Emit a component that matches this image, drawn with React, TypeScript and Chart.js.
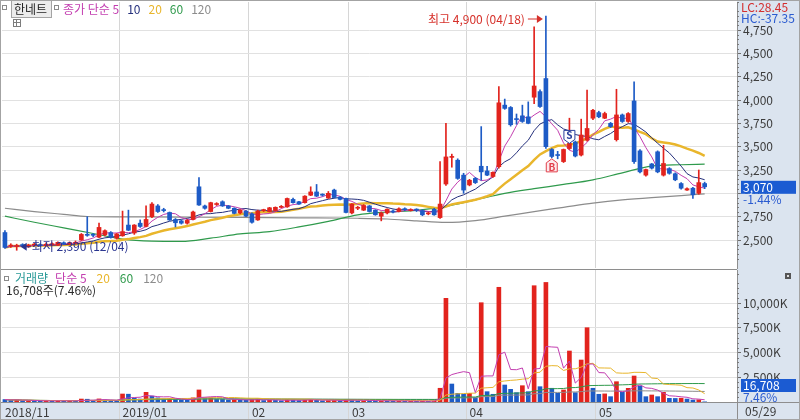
import React, { useEffect, useRef } from 'react';
import { Chart, registerables } from 'chart.js';

Chart.register(...registerables);

const FONT = '"Noto Sans CJK KR", "Noto Sans", sans-serif';

// ---------------- data ----------------
const STOCK_NAME = '한네트';

const DATES = [
  '2018/11/30',
  '2018/12/03', '2018/12/04', '2018/12/05', '2018/12/06', '2018/12/07', '2018/12/10', '2018/12/11', '2018/12/12', '2018/12/13', '2018/12/14',
  '2018/12/17', '2018/12/18', '2018/12/19', '2018/12/20', '2018/12/21', '2018/12/24', '2018/12/26', '2018/12/27', '2018/12/28',
  '2019/01/02', '2019/01/03', '2019/01/04', '2019/01/07', '2019/01/08', '2019/01/09', '2019/01/10', '2019/01/11', '2019/01/14', '2019/01/15',
  '2019/01/16', '2019/01/17', '2019/01/18', '2019/01/21', '2019/01/22', '2019/01/23', '2019/01/24', '2019/01/25', '2019/01/28', '2019/01/29',
  '2019/01/30', '2019/01/31',
  '2019/02/01', '2019/02/07', '2019/02/08', '2019/02/11', '2019/02/12', '2019/02/13', '2019/02/14', '2019/02/15', '2019/02/18', '2019/02/19',
  '2019/02/20', '2019/02/21', '2019/02/22', '2019/02/25', '2019/02/26', '2019/02/27', '2019/02/28',
  '2019/03/04', '2019/03/05', '2019/03/06', '2019/03/07', '2019/03/08', '2019/03/11', '2019/03/12', '2019/03/13', '2019/03/14', '2019/03/15',
  '2019/03/18', '2019/03/19', '2019/03/20', '2019/03/21', '2019/03/22', '2019/03/25', '2019/03/26', '2019/03/27', '2019/03/28', '2019/03/29',
  '2019/04/01', '2019/04/02', '2019/04/03', '2019/04/04', '2019/04/05', '2019/04/08', '2019/04/09', '2019/04/10', '2019/04/11', '2019/04/12',
  '2019/04/15', '2019/04/16', '2019/04/17', '2019/04/18', '2019/04/19', '2019/04/22', '2019/04/23', '2019/04/24', '2019/04/25', '2019/04/26',
  '2019/04/29', '2019/04/30',
  '2019/05/02', '2019/05/03', '2019/05/07', '2019/05/08', '2019/05/09', '2019/05/10', '2019/05/13', '2019/05/14', '2019/05/15', '2019/05/16',
  '2019/05/17', '2019/05/20', '2019/05/21', '2019/05/22', '2019/05/23', '2019/05/24', '2019/05/27', '2019/05/28', '2019/05/29',
];

const OPEN = [
  2580, 2435, 2430, 2445, 2430, 2445, 2450, 2440, 2450, 2445, 2470, 2455, 2465, 2500, 2560, 2555, 2530, 2555, 2580, 2520,
  2545, 2660, 2575, 2680, 2645, 2750, 2865, 2825, 2795, 2720, 2705, 2680, 2720, 3070, 2865, 2805, 2880, 2910, 2865, 2840,
  2790, 2810, 2780, 2715, 2815, 2805, 2815, 2850, 2855, 2935, 2910, 2900, 2980, 3015, 2985, 2950, 3035, 2960, 2945, 2790,
  2840, 2820, 2865, 2820, 2755, 2790, 2805, 2805, 2830, 2815, 2825, 2815, 2780, 2830, 2740, 3100, 3385, 3355, 3195, 3090,
  3160, 3290, 3240, 3180, 3285, 3945, 3920, 3800, 3830, 3820, 4030, 4090, 4230, 3470, 3415, 3340, 3480, 3550, 3410, 3570,
  3805, 3865, 3805, 3750, 3575, 3840, 3770, 3990, 3455, 3195, 3315, 3445, 3195, 3265, 3210, 3105, 3035, 3055, 3000, 3105,
];
const HIGH = [
  2600, 2460, 2455, 2460, 2455, 2465, 2460, 2470, 2470, 2480, 2480, 2480, 2490, 2570, 2750, 2570, 2680, 2610, 2590, 2570,
  2810, 2820, 2665, 2715, 2865, 2900, 2880, 2840, 2800, 2730, 2715, 2720, 2810, 3170, 2875, 2905, 2900, 2920, 2870, 2845,
  2825, 2815, 2790, 2820, 2830, 2850, 2855, 2870, 2950, 2950, 2915, 2975, 3070, 3095, 2995, 3020, 3045, 2965, 2950, 2890,
  2860, 2880, 2870, 2825, 2800, 2835, 2820, 2845, 2845, 2835, 2835, 2825, 2800, 2840, 3340, 3750, 3420, 3370, 3215, 3150,
  3170, 3715, 3290, 3230, 4145, 4010, 3930, 3850, 3945, 3980, 4785, 4110, 4900, 3480, 3450, 3475, 3805, 3560, 3795, 4105,
  3900, 3880, 3870, 3760, 4115, 3850, 3865, 4195, 3470, 3260, 3320, 3455, 3515, 3275, 3220, 3115, 3060, 3065, 3250, 3120,
];
const LOW = [
  2410, 2420, 2390, 2430, 2420, 2435, 2430, 2435, 2440, 2440, 2450, 2450, 2460, 2495, 2540, 2535, 2525, 2545, 2520, 2510,
  2540, 2600, 2560, 2635, 2640, 2740, 2795, 2800, 2710, 2640, 2670, 2670, 2715, 2870, 2830, 2800, 2870, 2860, 2835, 2780,
  2780, 2750, 2680, 2710, 2805, 2800, 2810, 2845, 2850, 2895, 2880, 2895, 2975, 2965, 2970, 2945, 2950, 2930, 2790, 2780,
  2825, 2815, 2800, 2765, 2705, 2780, 2790, 2800, 2815, 2810, 2805, 2760, 2770, 2765, 2730, 3085, 3280, 3150, 3000, 3080,
  3105, 3140, 3190, 3170, 3270, 3900, 3720, 3740, 3760, 3745, 3960, 3920, 3480, 3380, 3370, 3330, 3470, 3390, 3400, 3560,
  3790, 3810, 3800, 3705, 3560, 3760, 3760, 3320, 3220, 3185, 3260, 3220, 3185, 3205, 3135, 3045, 3030, 2945, 2990, 3050,
];
const CLOSE = [
  2420, 2445, 2440, 2440, 2445, 2450, 2440, 2455, 2455, 2475, 2460, 2470, 2475, 2560, 2550, 2550, 2635, 2600, 2530, 2565,
  2590, 2605, 2660, 2645, 2720, 2885, 2805, 2815, 2715, 2685, 2680, 2710, 2800, 2875, 2840, 2900, 2890, 2865, 2840, 2785,
  2820, 2755, 2690, 2810, 2820, 2845, 2850, 2855, 2945, 2900, 2885, 2970, 3015, 2970, 2980, 3000, 2955, 2935, 2795, 2885,
  2845, 2870, 2805, 2770, 2790, 2830, 2800, 2835, 2825, 2825, 2820, 2770, 2790, 2770, 2885, 3390, 3395, 3160, 3035, 3140,
  3115, 3230, 3195, 3225, 3970, 3910, 3735, 3790, 3770, 3750, 4150, 3930, 3500, 3395, 3405, 3470, 3535, 3400, 3625, 3695,
  3890, 3820, 3855, 3715, 3840, 3770, 3855, 3340, 3230, 3255, 3270, 3230, 3320, 3215, 3145, 3055, 3050, 2985, 3115, 3070,
];
const VOLUME = [
  250000, 180000, 220000, 120000, 150000, 110000, 90000, 130000, 100000, 160000, 90000, 110000, 100000, 300000, 280000, 120000, 310000, 200000, 150000, 120000,
  810000, 790000, 400000, 300000, 980000, 600000, 420000, 300000, 350000, 250000, 200000, 180000, 420000, 1220000, 400000, 420000, 300000, 280000, 200000, 230000,
  200000, 180000, 250000, 300000, 150000, 180000, 160000, 120000, 260000, 200000, 150000, 200000, 250000, 230000, 120000, 150000, 180000, 120000, 250000, 230000,
  120000, 130000, 120000, 110000, 140000, 120000, 90000, 100000, 80000, 90000, 80000, 100000, 70000, 110000, 1390000, 10490000, 1820000, 880000, 780000, 880000,
  435000, 10050000, 1045000, 780000, 11610000, 1720000, 1285000, 945000, 1650000, 1045000, 11770000, 1550000, 12100000, 1390000, 880000, 1215000, 5160000, 945000, 4250000, 7520000,
  1390000, 780000, 820000, 540000, 2055000, 980000, 1385000, 2630000, 1620000, 540000, 710000, 540000, 980000, 370000, 360000, 380000, 300000, 200000, 224000, 16708,
];

// long moving averages (index, value)
const MA60_IDX = [0, 5, 10, 15, 20, 25, 30, 35, 40, 45, 50, 55, 60, 65, 70, 75, 80, 85, 90, 95, 100, 105, 110, 115, 119];
const MA60_VAL = [2755, 2690, 2630, 2570, 2510, 2488, 2485, 2520, 2565, 2590, 2640, 2700, 2770, 2800, 2818, 2860, 2930, 3000, 3050, 3095, 3145, 3220, 3292, 3306, 3312];
const MA120_IDX = [0, 5, 10, 14, 20, 30, 40, 50, 60, 65, 70, 75, 80, 85, 90, 95, 100, 105, 110, 115, 119];
const MA120_VAL = [2840, 2805, 2775, 2752, 2748, 2745, 2742, 2738, 2733, 2725, 2705, 2688, 2708, 2755, 2805, 2850, 2895, 2930, 2955, 2975, 2995];

const SIGNALS = [
  { idx: 93, type: 'B' },
  { idx: 96, type: 'S' },
];

const PRICE_TICKS = [2500, 2750, 3000, 3250, 3500, 3750, 4000, 4250, 4500, 4750];
const VOLUME_TICKS = [2500000, 5000000, 7500000, 10000000];
const PRICE_LEGEND = ['종가 단순 5', '10', '20', '60', '120'];
const VOLUME_LEGEND = ['거래량', '단순 5', '20', '60', '120'];
const EMPTY_SLOTS = 5;

// ---------------- styles ----------------
const RED = '#e2231d';
const BLUE = '#1d5bc6';
const PANEL_BG = '#dbe4ef';
const GRID = '#e1e1e1';
const GRID_V = '#d6d6d6';
const AXIS = '#8e8e8e';
const TEXT = '#3c3c3c';
const C_MA5 = '#c33eb0';
const C_MA10 = '#25307c';
const C_MA20 = '#e9b62c';
const C_MA60 = '#2f9a4c';
const C_MA120 = '#8c8c8c';
const C_VOL = '#2a9a98';

const fmt = (n: number) => Math.round(n).toLocaleString('en-US');

function sma(values: number[], n: number) {
  return values.map((_, i) => {
    const win = values.slice(Math.max(0, i - n + 1), i + 1);
    return win.reduce((a, b) => a + b, 0) / win.length;
  });
}

function monthTicks() {
  const out: { value: number; label: string }[] = [];
  let last = -100;
  DATES.forEach((d, i) => {
    const [yy, mm] = d.split('/');
    const prev = i > 0 ? DATES[i - 1].split('/') : null;
    if (i === 0 || (prev && prev[1] !== mm)) {
      if (i - last < 10) return;
      const label = i === 0 || (prev && prev[0] !== yy) ? `${yy}/${mm}` : mm;
      out.push({ value: i - 0.5, label });
      last = i;
    }
  });
  return out;
}

const MONTHS = monthTicks();
const N = DATES.length;
const X_MIN = -0.5;
const X_MAX = N + EMPTY_SLOTS - 0.5;

function noPad(s: any) {
  s.paddingTop = 0;
  s.paddingBottom = 0;
  s.paddingLeft = 0;
  s.paddingRight = 0;
}

function smallSquare(ctx: CanvasRenderingContext2D, x: number, y: number) {
  ctx.fillStyle = '#ffffff';
  ctx.fillRect(x, y, 4, 4);
  ctx.strokeStyle = '#8a8a8a';
  ctx.lineWidth = 1;
  ctx.strokeRect(x + 0.5, y + 0.5, 4, 4);
}

function xScale(showLabels: boolean) {
  return {
    type: 'linear',
    min: X_MIN,
    max: X_MAX,
    offset: false,
    afterBuildTicks: (s: any) => {
      s.ticks = MONTHS.map((m) => ({ value: m.value }));
    },
    afterFit: (s: any) => {
      s.height = showLabels ? 18 : 0;
      noPad(s);
    },
    ticks: {
      display: showLabels,
      autoSkip: false,
      maxRotation: 0,
      align: 'start',
      labelOffset: 3,
      padding: -15,
      color: TEXT,
      font: { size: 12 },
      callback: (v: number) => {
        const m = MONTHS.find((t) => Math.abs(t.value - v) < 1e-6);
        return m ? m.label : '';
      },
    },
    grid: {
      offset: false,
      color: (c: any) => (c.tick && c.tick.value < 0 ? 'rgba(0,0,0,0)' : GRID_V),
      drawTicks: showLabels,
      tickLength: showLabels ? 18 : 0,
    },
    border: { display: showLabels, color: AXIS },
  };
}

function priceConfig(): any {
  const ma5 = sma(CLOSE, 5);
  const ma10 = sma(CLOSE, 10);
  const ma20 = sma(CLOSE, 20);
  const colors = CLOSE.map((c, i) => (c >= OPEN[i] ? RED : BLUE));
  const line = (data: any[], color: string, width: number, order: number, smooth = false) => ({
    type: 'line',
    data,
    borderColor: color,
    borderWidth: width,
    pointRadius: 0,
    fill: false,
    order,
    cubicInterpolationMode: smooth ? 'monotone' : 'default',
  });

  const plugin = {
    id: 'priceDecor',
    beforeDraw(chart: any) {
      const { ctx, chartArea: a, width, height } = chart;
      ctx.save();
      ctx.fillStyle = '#ffffff';
      ctx.fillRect(0, 0, width, height);
      ctx.fillStyle = PANEL_BG;
      ctx.fillRect(a.right, 0, width - a.right, height);
      ctx.restore();
    },
    afterDraw(chart: any) {
      const { ctx, chartArea: a, scales } = chart;
      const x = scales.x;
      const y = scales.y;
      ctx.save();
      ctx.textBaseline = 'middle';
      ctx.font = `12px ${FONT}`;

      // minor ticks on price axis
      ctx.strokeStyle = '#7a7a7a';
      ctx.lineWidth = 1;
      for (let v = 2250; v <= 5050; v += 50) {
        if (v % 250 === 0) continue;
        const py = Math.round(y.getPixelForValue(v)) + 0.5;
        ctx.beginPath();
        ctx.moveTo(a.right, py);
        ctx.lineTo(a.right + 2, py);
        ctx.stroke();
      }

      // separator to the volume panel
      ctx.strokeStyle = AXIS;
      ctx.beginPath();
      ctx.moveTo(0, 269.5);
      ctx.lineTo(a.right, 269.5);
      ctx.stroke();

      // legend
      smallSquare(ctx, 2, 5);
      ctx.fillStyle = '#ececec';
      ctx.fillRect(11.5, 0.5, 40, 17);
      ctx.strokeStyle = '#a4a4a4';
      ctx.strokeRect(11.5, 0.5, 40, 17);
      ctx.fillStyle = '#222';
      ctx.fillText(STOCK_NAME, 14, 9.5);
      smallSquare(ctx, 54, 5);
      const legendColors = [C_MA5, C_MA10, C_MA20, C_MA60, C_MA120];
      let lx = 63;
      PRICE_LEGEND.forEach((t, i) => {
        ctx.fillStyle = legendColors[i];
        ctx.fillText(t, lx, 9.5);
        lx += ctx.measureText(t).width + 8;
      });
      // table icon
      ctx.strokeStyle = '#7d7d7d';
      ctx.strokeRect(13.5, 19.5, 7, 7);
      ctx.beginPath();
      ctx.moveTo(13.5, 22.5); ctx.lineTo(20.5, 22.5);
      ctx.moveTo(16.5, 19.5); ctx.lineTo(16.5, 26.5);
      ctx.stroke();

      // high / low annotations
      let maxI = 0;
      let minI = 0;
      HIGH.forEach((h, i) => { if (h > HIGH[maxI]) maxI = i; });
      LOW.forEach((l, i) => { if (l < LOW[minI]) minI = i; });
      const hx = x.getPixelForValue(maxI);
      const hy = y.getPixelForValue(HIGH[maxI]) + 3;
      ctx.fillStyle = '#d6302a';
      ctx.strokeStyle = '#d6302a';
      ctx.textAlign = 'right';
      ctx.fillText(`최고 ${fmt(HIGH[maxI])} (${DATES[maxI].slice(5)})`, hx - 21, hy);
      ctx.beginPath();
      ctx.moveTo(hx - 18, hy);
      ctx.lineTo(hx - 8, hy);
      ctx.stroke();
      ctx.beginPath();
      ctx.moveTo(hx - 3, hy);
      ctx.lineTo(hx - 9, hy - 4);
      ctx.lineTo(hx - 9, hy + 4);
      ctx.closePath();
      ctx.fill();

      const lxp = x.getPixelForValue(minI);
      const ly = y.getPixelForValue(LOW[minI]) - 3.5;
      ctx.fillStyle = '#2a3590';
      ctx.strokeStyle = '#2a3590';
      ctx.textAlign = 'left';
      ctx.beginPath();
      ctx.moveTo(lxp + 4, ly);
      ctx.lineTo(lxp + 10, ly - 4);
      ctx.lineTo(lxp + 10, ly + 4);
      ctx.closePath();
      ctx.fill();
      ctx.beginPath();
      ctx.moveTo(lxp + 10, ly);
      ctx.lineTo(lxp + 14, ly);
      ctx.stroke();
      ctx.fillText(`최저 ${fmt(LOW[minI])} (${DATES[minI].slice(5)})`, lxp + 15, ly);

      // B / S signals
      ctx.font = `bold 10px ${FONT}`;
      ctx.textAlign = 'center';
      SIGNALS.forEach((s) => {
        const sx = x.getPixelForValue(s.idx);
        ctx.lineWidth = 1;
        ctx.beginPath();
        if (s.type === 'B') {
          const sy = y.getPixelForValue(LOW[s.idx]) + 1;
          ctx.moveTo(sx, sy);
          ctx.lineTo(sx + 5.5, sy + 4);
          ctx.lineTo(sx + 5.5, sy + 13);
          ctx.lineTo(sx - 5.5, sy + 13);
          ctx.lineTo(sx - 5.5, sy + 4);
          ctx.closePath();
          ctx.fillStyle = '#fde9ec';
          ctx.fill();
          ctx.strokeStyle = '#e2404c';
          ctx.stroke();
          ctx.fillStyle = '#e2404c';
          ctx.fillText('B', sx, sy + 8.5);
        } else {
          const sy = y.getPixelForValue(Math.max(OPEN[s.idx], CLOSE[s.idx]));
          ctx.moveTo(sx, sy);
          ctx.lineTo(sx + 5.5, sy - 4);
          ctx.lineTo(sx + 5.5, sy - 13);
          ctx.lineTo(sx - 5.5, sy - 13);
          ctx.lineTo(sx - 5.5, sy - 4);
          ctx.closePath();
          ctx.fillStyle = '#ffffff';
          ctx.fill();
          ctx.strokeStyle = '#2a3f9c';
          ctx.stroke();
          ctx.fillStyle = '#2a3f9c';
          ctx.fillText('S', sx, sy - 8);
        }
      });

      // right panel texts
      ctx.font = `12px ${FONT}`;
      ctx.textAlign = 'left';
      const last = CLOSE[N - 1];
      const lowAll = LOW[minI];
      const highAll = HIGH[maxI];
      ctx.fillStyle = '#d32f2f';
      ctx.fillText(`LC:${(((last - lowAll) / lowAll) * 100).toFixed(2)}`, 741, 7);
      ctx.fillStyle = '#2a5bd0';
      ctx.fillText(`HC:${(((last - highAll) / highAll) * 100).toFixed(2)}`, 741, 18);

      const py = y.getPixelForValue(last);
      ctx.fillStyle = PANEL_BG;
      ctx.fillRect(740, py + 7, 58, 12);
      ctx.fillStyle = '#1b5bd2';
      ctx.fillRect(741, py - 6, 55, 13);
      ctx.fillStyle = '#ffffff';
      ctx.fillText(fmt(last), 743, py + 0.5);
      ctx.fillStyle = '#2a5bd0';
      const chg = ((last - CLOSE[N - 2]) / CLOSE[N - 2]) * 100;
      ctx.fillText(`${chg.toFixed(2)}%`, 743, py + 13);
      ctx.restore();
    },
  };

  return {
    type: 'bar',
    data: {
      datasets: [
        line(MA120_IDX.map((i, k) => ({ x: i, y: MA120_VAL[k] })), C_MA120, 1.2, 14, true),
        line(MA60_IDX.map((i, k) => ({ x: i, y: MA60_VAL[k] })), C_MA60, 1.2, 13, true),
        line(ma20.map((v, i) => ({ x: i, y: v })), C_MA20, 2.5, 12),
        line(ma10.map((v, i) => ({ x: i, y: v })), C_MA10, 1, 11),
        line(ma5.map((v, i) => ({ x: i, y: v })), C_MA5, 1, 10),
        {
          type: 'bar',
          data: LOW.map((l, i) => ({ x: i, y: [l, HIGH[i]] })),
          backgroundColor: colors,
          barThickness: 1,
          grouped: false,
          order: 2,
        },
        {
          type: 'bar',
          data: OPEN.map((o, i) => ({ x: i, y: [o, CLOSE[i]] })),
          backgroundColor: colors,
          barThickness: 4,
          minBarLength: 1,
          grouped: false,
          order: 1,
        },
      ],
    },
    options: {
      responsive: false,
      maintainAspectRatio: false,
      animation: false,
      events: [],
      layout: { padding: { left: 2, top: 2, right: 0, bottom: 2 } },
      plugins: { legend: { display: false }, tooltip: { enabled: false } },
      scales: {
        x: xScale(false),
        y: {
          type: 'linear',
          position: 'right',
          min: 2200,
          max: 5050,
          afterBuildTicks: (s: any) => {
            s.ticks = PRICE_TICKS.map((v) => ({ value: v }));
          },
          afterFit: (s: any) => {
            s.width = 63;
            noPad(s);
          },
          ticks: {
            autoSkip: false,
            padding: 2,
            color: TEXT,
            font: { size: 12 },
            callback: (v: number) => fmt(v),
          },
          grid: { color: GRID, tickLength: 4, tickColor: '#6e6e6e' },
          border: { display: true, color: AXIS },
        },
      },
    },
    plugins: [plugin],
  };
}

function volumeConfig(): any {
  const colors = VOLUME.map((v, i) => (i > 0 && v >= VOLUME[i - 1] ? RED : BLUE));
  const line = (n: number, color: string, order: number) => ({
    type: 'line',
    data: sma(VOLUME, n).map((v, i) => ({ x: i, y: v })),
    borderColor: color,
    borderWidth: 1,
    pointRadius: 0,
    fill: false,
    order,
  });

  const plugin = {
    id: 'volDecor',
    beforeDraw(chart: any) {
      const { ctx, chartArea: a, width, height } = chart;
      ctx.save();
      ctx.fillStyle = PANEL_BG;
      ctx.fillRect(0, 0, width, height);
      ctx.fillStyle = '#ffffff';
      ctx.fillRect(a.left - 2, a.top, a.right - a.left + 2, a.bottom - a.top);
      ctx.restore();
    },
    afterDraw(chart: any) {
      const { ctx, chartArea: a, scales, width } = chart;
      const y = scales.y;
      ctx.save();
      ctx.textBaseline = 'middle';
      ctx.font = `12px ${FONT}`;
      ctx.strokeStyle = AXIS;
      ctx.lineWidth = 1;
      ctx.beginPath();
      ctx.moveTo(0, a.bottom + 0.5);
      ctx.lineTo(width, a.bottom + 0.5);
      ctx.moveTo(a.right + 0.5, 0);
      ctx.lineTo(a.right + 0.5, 150);
      ctx.stroke();

      // minor ticks
      ctx.strokeStyle = '#7a7a7a';
      for (let v = 500000; v <= 13000000; v += 500000) {
        if (v % 2500000 === 0) continue;
        const py = Math.round(y.getPixelForValue(v)) + 0.5;
        ctx.beginPath();
        ctx.moveTo(a.right, py);
        ctx.lineTo(a.right + 2, py);
        ctx.stroke();
      }

      // legend
      smallSquare(ctx, 4, 6);
      const legendColors = [C_VOL, C_MA5, C_MA20, C_MA60, C_MA120];
      let lx = 15;
      VOLUME_LEGEND.forEach((t, i) => {
        ctx.fillStyle = legendColors[i];
        ctx.fillText(t, lx, 8.5);
        lx += ctx.measureText(t).width + (i === 0 ? 7 : 10);
      });
      const lastV = VOLUME[N - 1];
      const pct = ((lastV / VOLUME[N - 2]) * 100).toFixed(2);
      ctx.fillStyle = '#2c2c2c';
      ctx.fillText(`${fmt(lastV)}주(${pct}%)`, 6, 20.5);

      // small icon top-right
      ctx.fillStyle = '#555';
      ctx.fillRect(785, 3, 6, 6);
      ctx.fillStyle = '#ddd';
      ctx.fillRect(787, 5, 2, 2);

      // last volume box
      const by = Math.min(y.getPixelForValue(lastV), a.bottom - 17);
      ctx.fillStyle = PANEL_BG;
      ctx.fillRect(740, by + 7, 58, a.bottom - by - 7);
      ctx.fillStyle = '#1b5bd2';
      ctx.fillRect(741, by - 6, 55, 13);
      ctx.fillStyle = '#ffffff';
      ctx.fillText(fmt(lastV), 743, by + 0.5);
      ctx.fillStyle = '#2a5bd0';
      ctx.fillText(`${pct}%`, 743, by + 12);

      // last date
      ctx.fillStyle = TEXT;
      ctx.fillText(DATES[N - 1].slice(5), 745, a.bottom + 9.5);
      ctx.restore();
    },
  };

  return {
    type: 'bar',
    data: {
      datasets: [
        line(120, C_MA120, 4),
        line(60, C_MA60, 3),
        line(20, C_MA20, 2),
        line(5, C_MA5, 1),
        {
          type: 'bar',
          data: VOLUME.map((v, i) => ({ x: i, y: v })),
          backgroundColor: colors,
          barThickness: 4,
          grouped: false,
          order: 10,
        },
      ],
    },
    options: {
      responsive: false,
      maintainAspectRatio: false,
      animation: false,
      events: [],
      layout: { padding: { left: 2, top: 0, right: 0, bottom: 0 } },
      plugins: { legend: { display: false }, tooltip: { enabled: false } },
      scales: {
        x: xScale(true),
        y: {
          type: 'linear',
          position: 'right',
          min: 0,
          max: 13360000,
          afterBuildTicks: (s: any) => {
            s.ticks = VOLUME_TICKS.map((v) => ({ value: v }));
          },
          afterFit: (s: any) => {
            s.width = 63;
            noPad(s);
          },
          ticks: {
            autoSkip: false,
            padding: 2,
            color: TEXT,
            font: { size: 12 },
            callback: (v: number) => `${fmt(v / 1000)}K`,
          },
          grid: { color: GRID, tickLength: 4, tickColor: '#6e6e6e' },
          border: { display: true, color: AXIS },
        },
      },
    },
    plugins: [plugin],
  };
}

export default function App() {
  const priceRef = useRef<HTMLCanvasElement>(null);
  const volRef = useRef<HTMLCanvasElement>(null);

  useEffect(() => {
    Chart.defaults.font.family = FONT;
    Chart.defaults.font.size = 12;
    const pc = new Chart(priceRef.current as HTMLCanvasElement, priceConfig());
    const vc = new Chart(volRef.current as HTMLCanvasElement, volumeConfig());
    return () => {
      pc.destroy();
      vc.destroy();
    };
  }, []);

  return (
    <div style={{ position: 'fixed', left: 0, top: 0, width: 800, height: 420, background: '#fff', overflow: 'hidden' }}>
      <canvas ref={priceRef} width={800} height={270} style={{ position: 'absolute', left: 0, top: 0, width: 800, height: 270 }} />
      <canvas ref={volRef} width={800} height={150} style={{ position: 'absolute', left: 0, top: 270, width: 800, height: 150 }} />
      <div
        style={{
          position: 'absolute',
          left: 0,
          top: 0,
          width: 800,
          height: 420,
          border: '1px solid #a3a3a3',
          boxSizing: 'border-box',
          pointerEvents: 'none',
        }}
      />
    </div>
  );
}
